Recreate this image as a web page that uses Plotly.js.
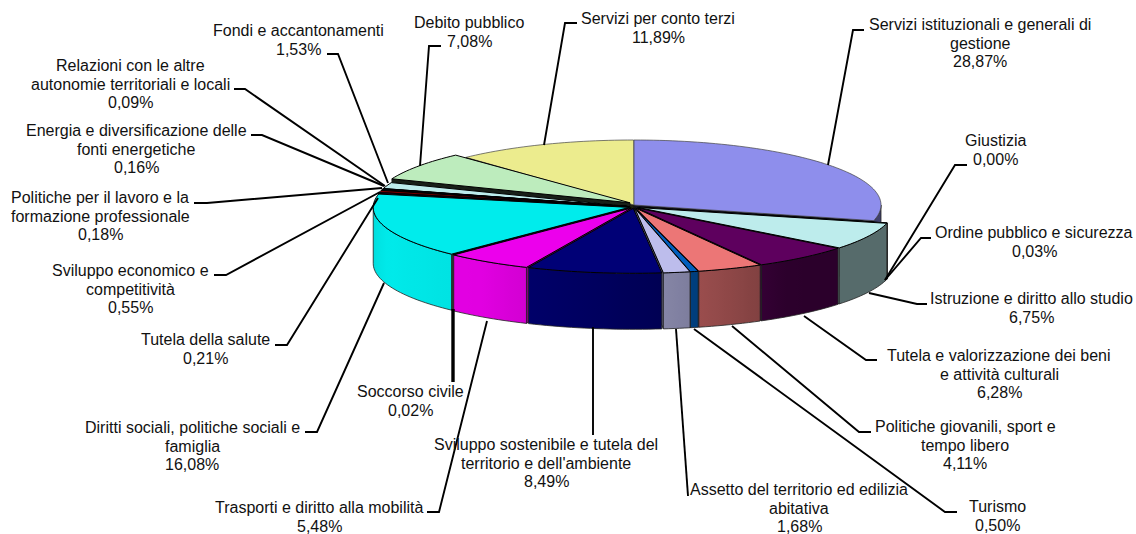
<!DOCTYPE html>
<html><head><meta charset="utf-8">
<script src="https://cdn.plot.ly/plotly-3.0.0.min.js"></script>
<style>html,body{margin:0;padding:0;background:#fff;overflow:hidden}#c{width:1136px;height:534px}</style>
</head><body><div id="c"></div>
<script>
// ---- data, clockwise from 12 o'clock ----
const categories = [
 "Servizi istituzionali e generali di<br>gestione","Giustizia","Ordine pubblico e sicurezza",
 "Istruzione e diritto allo studio","Tutela e valorizzazione dei beni<br>e attività culturali",
 "Politiche giovanili, sport e<br>tempo libero","Turismo","Assetto del territorio ed edilizia<br>abitativa",
 "Sviluppo sostenibile e tutela del<br>territorio e dell'ambiente","Trasporti e diritto alla mobilità",
 "Soccorso civile","Diritti sociali, politiche sociali e<br>famiglia","Tutela della salute",
 "Sviluppo economico e<br>competitività","Politiche per il lavoro e la<br>formazione professionale",
 "Energia e diversificazione delle<br>fonti energetiche","Relazioni con le altre<br>autonomie territoriali e locali",
 "Fondi e accantonamenti","Debito pubblico","Servizi per conto terzi"];
const values = [28.87,0.00,0.03,6.75,6.28,4.11,0.50,1.68,8.49,5.48,0.02,16.08,0.21,0.55,0.18,0.16,0.09,1.53,7.08,11.89];
const colors = ["#9999FF","#993366","#FFFFCC","#CCFFFF","#660066","#FF8080","#0066CC","#CCCCFF","#000080","#FF00FF",
 "#FFFF00","#00FFFF","#800080","#800000","#008080","#0000FF","#00CCFF","#CCFFFF","#CCFFCC","#FFFF99"];
// ---- label layout (px) ----
const labelX = [980,995,1034,1031,999,965,997,799,546,319,410,192,205,130,100,136,130,298,469,658];
const labelY = [43,150,242,308,374,445,516,508,463,517,401,446,349,289,216,149,84,40,32,28];
const LINE_GAP = 18.5;
const leaders = [
 [[864,30],[853,30],[828,165]],[[967,165],[955,165],[885,280]],[[931,238],[921,238],[885,280]],
 [[927,304],[917,304],[869,293]],[[877,360],[866,360],[804,316]],[[871,432],[859,432],[732,326]],
 [[957,512],[945,512],[694,329]],[[688,496],[676,329]],[[593,435],[593,327]],[[427,512],[439,512],[487,321]],
 [[453,382],[453,309]],[[305,432],[317,432],[384,283]],[[275,345],[287,345],[378,198]],
 [[214,275],[226,275],[380,192]],[[194,203],[207,203],[382,188]],[[251,135],[262,135],[384,186]],
 [[234,89],[245,89],[385,186]],[[327,54],[338,54],[388,183]],[[441,46],[429,46],[420,166]],[[577,23],[565,23],[544,145]]];
const leaderWidth = [1.9,1.9,1.9,1.9,1.9,1.9,1.9,1.9,1.9,1.9,3.4,1.9,1.9,1.9,1.9,1.9,1.9,1.9,1.9,1.9];
// ---- projection of the tilted pie (px) ----
const CX=634, CY=207, A=256, B=65, DEPTH=56, EX=5, EY=1.3;
const REAR=[0,19], REAR_A=247, REAR_CY=205, DEBITO=18, DEBITO_CY=203.5;
const shadeStops=[[90,.42],[130,.42],[145,.43],[150,.5],[165,.6],[175,.66],[190,.75],[215,.88],[250,.92],[270,.85]];

function rgb(h){return [1,3,5].map(i=>parseInt(h.substr(i,2),16));}
function mul(h,f){return 'rgb('+rgb(h).map(v=>Math.round(v*f)).join(',')+')';}
function shade(t){
  if(t<=shadeStops[0][0])return shadeStops[0][1];
  for(let i=1;i<shadeStops.length;i++){const a=shadeStops[i-1],b=shadeStops[i];
    if(t<=b[0])return a[1]+(b[1]-a[1])*(t-a[0])/(b[0]-a[0]);}
  return shadeStops[shadeStops.length-1][1];
}
const total=100;
let acc=0; const slices=values.map((v,i)=>{const s=acc/total*360;acc+=v;const e=acc/total*360;return {i,v,s,e,m:(s+e)/2};});
const rad=d=>d*Math.PI/180;
const traces=[];
function poly(xs,ys,fill,line,lw,extra){
  traces.push(Object.assign({type:'scatter',mode:'lines',x:xs.concat(xs[0]),y:ys.concat(ys[0]),fill:'toself',fillcolor:fill,
    line:{color:line,width:lw,simplify:false},hoverinfo:'skip',showlegend:false},extra||{}));
}
slices.filter(s=>s.v>0).sort((p,q)=>(-Math.cos(rad(p.m)))-(-Math.cos(rad(q.m)))).forEach(sl=>{
  const rear=REAR.includes(sl.i), deb=sl.i===DEBITO;
  const a=rear?REAR_A:A, cy=rear?REAR_CY:(deb?DEBITO_CY:CY);
  const ox=rear?CX:CX+EX*Math.sin(rad(sl.m)), oy=rear?cy:cy-EY*Math.cos(rad(sl.m));
  const P=t=>[ox+a*Math.sin(rad(t)), oy-B*Math.cos(rad(t))];
  const col=colors[sl.i];
  const wf=(rear||deb)?.12:.5;
  const wall=(t)=>{const p=P(t);poly([ox,p[0],p[0],ox],[oy,p[1],p[1]+DEPTH,oy+DEPTH],mul(col,wf),'#111',.8);};
  if(Math.sin(rad(sl.s))<-1e-6) wall(sl.s);
  if(Math.sin(rad(sl.e))>1e-6) wall(sl.e);
  // outer wall, front half only
  const r0=Math.max(sl.s,90), r1=Math.min(sl.e,270);
  if(r1>r0){
    const n=Math.max(2,Math.ceil((r1-r0)/1.5)), xs=[],ys=[],xb=[],yb=[];
    for(let k=0;k<=n;k++){const t=r0+(r1-r0)*k/n,p=P(t);xs.push(p[0]);ys.push(p[1]);xb.unshift(p[0]);yb.unshift(p[1]+DEPTH);}
    const xMin=P(r1)[0], xMax=P(r0)[0], scale=[];
    const m=10; for(let k=0;k<=m;k++){const t=r1+(r0-r1)*k/m;const pos=(xMax-xMin)>0?(P(t)[0]-xMin)/(xMax-xMin):k/m;
      scale.push([Math.min(1,Math.max(0,pos)),mul(col,shade(t))]);}
    scale[0][0]=0;scale[m][0]=1;
    poly(xs.concat(xb),ys.concat(yb),mul(col,shade((r0+r1)/2)),'#222',.8,
      {fillgradient:{type:'horizontal',colorscale:scale}});
  }
  // top face
  const n=Math.max(2,Math.ceil((sl.e-sl.s)/1.5)), xs=[ox], ys=[oy];
  for(let k=0;k<=n;k++){const p=P(sl.s+(sl.e-sl.s)*k/n);xs.push(p[0]);ys.push(p[1]);}
  poly(xs,ys,mul(col,.925),rear?'#444':'#000',rear?.7:1);
});
const annotations=[];
categories.forEach((c,i)=>{
  const lines=c.split('<br>').concat(values[i].toFixed(2).replace('.',',')+'%');
  lines.forEach((t,k)=>annotations.push({
    xref:'x',yref:'y',x:labelX[i],y:labelY[i]+(k-(lines.length-1)/2)*LINE_GAP,xanchor:'center',yanchor:'middle',align:'center',showarrow:false,
    text:t,font:{family:'"Liberation Sans",Arial,sans-serif',size:16,color:'#111'},borderpad:0
  }));
});
const shapes=leaders.map((pts,i)=>({type:'path',xref:'x',yref:'y',layer:'above',
  path:'M'+pts.map(p=>p[0]+','+p[1]).join('L'),line:{color:'#000',width:leaderWidth[i]}}));
Plotly.newPlot('c',traces,{
  width:1136,height:534,margin:{l:0,r:0,t:0,b:0},paper_bgcolor:'#fff',plot_bgcolor:'#fff',showlegend:false,
  xaxis:{range:[0,1136],visible:false,fixedrange:true},
  yaxis:{range:[534,0],visible:false,fixedrange:true},
  annotations,shapes
},{displayModeBar:false,staticPlot:true});
</script></body></html>
